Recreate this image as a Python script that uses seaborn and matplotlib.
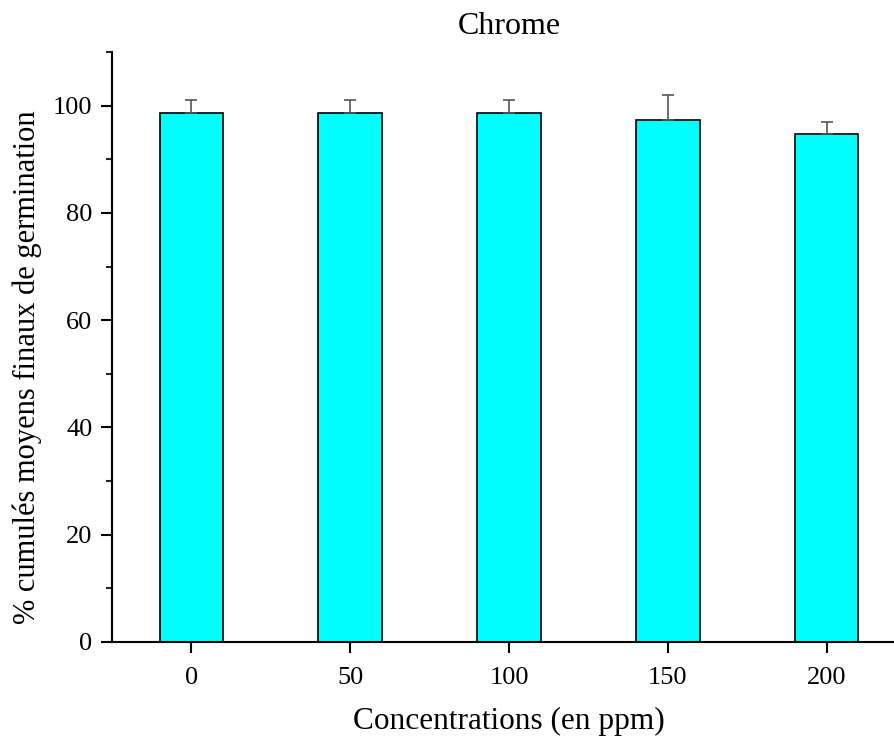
import matplotlib
matplotlib.use("Agg")
import matplotlib.pyplot as plt
import seaborn as sns
import pandas as pd
import numpy as np
from matplotlib.ticker import MultipleLocator

concentrations = ["0", "50", "100", "150", "200"]
germination = [98.67, 98.67, 98.67, 97.33, 94.67]
errors = [2.31, 2.31, 2.31, 4.62, 2.31]

sns.set_style("ticks")
plt.rcParams['font.family'] = ['Liberation Serif', 'DejaVu Serif']
plt.rcParams['text.color'] = 'black'
plt.rcParams['axes.labelcolor'] = 'black'

df = pd.DataFrame({"conc": concentrations, "germ": germination})

fig = plt.figure(figsize=(8.95, 7.38), dpi=100)
ax = fig.add_axes([112/895, 96/738, (906-112)/895, (642-52)/738])

sns.barplot(data=df, x="conc", y="germ", ax=ax, color="#00FFFF", width=0.4,
            edgecolor="black", linewidth=1.2, saturation=1, errorbar=None)
xs = np.arange(len(concentrations))
ax.errorbar(xs, germination, yerr=[np.zeros(len(errors)), errors], fmt="none",
            ecolor="#555555", elinewidth=1.2, capsize=4, capthick=1.2, zorder=1)

ax.set_xlim(-0.5, 4.5)
ax.set_ylim(0, 110)
ax.yaxis.set_major_locator(MultipleLocator(20))
ax.yaxis.set_minor_locator(MultipleLocator(10))
ax.tick_params(axis="both", which="major", direction="out", length=8, width=1.5,
               labelsize=19, colors="black")
ax.tick_params(axis="x", which="major", pad=10)
ax.tick_params(axis="y", which="major", pad=6)
ax.tick_params(axis="y", which="minor", direction="out", length=4, width=1.5)
ax.tick_params(axis="x", which="minor", bottom=False)
for s in ["top", "right"]:
    ax.spines[s].set_visible(False)
for s in ["left", "bottom"]:
    ax.spines[s].set_linewidth(1.5)
    ax.spines[s].set_color("black")

ax.set_xlabel("Concentrations (en ppm)", fontsize=22.5, labelpad=13, color="black")
ax.set_ylabel("% cumulés moyens finaux de germination", fontsize=22, labelpad=8,
              color="black", y=0.466)
ax.set_title("Chrome", fontsize=23, pad=13, color="black")

fig.savefig("out.png", dpi=100)
